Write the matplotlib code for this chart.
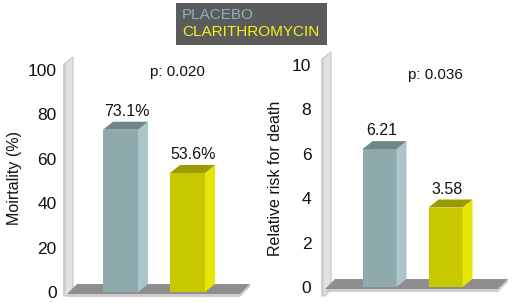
import matplotlib
matplotlib.use("Agg")
import matplotlib.pyplot as plt
from matplotlib.patches import Polygon, Rectangle

plt.rcParams['font.family'] = ['Liberation Sans', 'DejaVu Sans']

groups = ["PLACEBO", "CLARITHROMYCIN"]
mortality = [73.1, 53.6]
mortality_labels = ["73.1%", "53.6%"]
risk = [6.21, 3.58]
risk_labels = ["6.21", "3.58"]
p_values = ["p: 0.020", "p: 0.036"]
ylabels = ["Moirtality (%)", "Relative risk for death"]

front = ["#8faaad", "#c8c800"]
side = ["#aac6cb", "#e6e600"]
top = ["#6f8789", "#9c9c00"]
legend_colors = ["#8ab2bd", "#f2f21e"]

W, H = 518, 303
fig = plt.figure(figsize=(W / 100, H / 100), dpi=100)
fig.patch.set_facecolor("white")

DX = 10  # depth offset in px (x data is pixels)
DYPX = 8


def make_axes(x0, x1, zero_px, px_per_unit):
    # axes spans pixel rows 50..300
    ax = fig.add_axes([x0 / W, (H - 300) / H, (x1 - x0) / W, 250 / H])
    ax.set_xlim(x0, x1)
    ax.set_ylim((zero_px - 300) / px_per_unit, (zero_px - 50) / px_per_unit)
    for s in ax.spines.values():
        s.set_visible(False)
    ax.set_xticks([])
    ax.patch.set_alpha(0)
    return ax


def panel(ax, zero_px, ppu, centers, width, values, labels, ticks, pad, pval, pxy,
          ylabel, ylab_x, lab_shift, wall_x):
    dy = DYPX / ppu
    v = lambda py: (zero_px - py) / ppu
    top_px = zero_px - ticks[-1] * ppu
    # back wall
    ax.add_patch(Polygon([(wall_x, v(296)), (wall_x, v(top_px - 5)),
                          (wall_x + DX, v(top_px - 13)),
                          (wall_x + DX, v(289)), (wall_x + 4, v(296))],
                         closed=True, facecolor="#e2e2e2", edgecolor="#b8b8b8", lw=0.6, zorder=1))
    ax.add_patch(Polygon([(wall_x, v(296)), (wall_x, v(top_px - 5)),
                          (wall_x + 3, v(top_px - 7)), (wall_x + 3, v(296))],
                         closed=True, facecolor="#cfcfcf", edgecolor="none", zorder=1))
    # floor
    fx0 = wall_x + 4
    fx1 = fx0 + 173
    ax.add_patch(Polygon([(fx0, v(zero_px + 2)), (fx1, v(zero_px + 2)),
                          (fx1 + DX, v(zero_px - 8)), (fx1 + DX, v(zero_px - 5)),
                          (fx1, v(zero_px + 5)), (fx0, v(zero_px + 5))],
                         closed=True, facecolor="#cdcdcd", edgecolor="none", zorder=2))
    ax.add_patch(Polygon([(fx0, v(zero_px + 2)), (fx1, v(zero_px + 2)),
                          (fx1 + DX, v(zero_px - 8)), (fx0 + DX, v(zero_px - 8))],
                         closed=True, facecolor="#8e8e8e", edgecolor="none", zorder=2))
    bars = ax.bar(centers, values, width=width, color=front, zorder=3)
    for i, b in enumerate(bars):
        x0 = b.get_x()
        x1 = x0 + b.get_width()
        h = b.get_height()
        ax.add_patch(Polygon([(x1, 0), (x1, h), (x1 + DX, h + dy), (x1 + DX, dy)],
                             closed=True, facecolor=side[i], edgecolor="none", zorder=3))
        ax.add_patch(Polygon([(x0, h), (x1, h), (x1 + DX, h + dy), (x0 + DX, h + dy)],
                             closed=True, facecolor=top[i], edgecolor="none", zorder=3))
        ax.annotate(labels[i], (b.get_x() + width / 2 + lab_shift, h + dy),
                    xytext=(0, 2), textcoords="offset points", ha="center",
                    va="bottom", fontsize=11.5, color="#111111")
    ax.set_yticks(ticks)
    ax.set_yticklabels([str(t) for t in ticks])
    ax.tick_params(axis="y", length=0, pad=pad, labelsize=12.5, labelcolor="#111111")
    ax.text(pxy[0], v(pxy[1]), pval, ha="center", va="center", fontsize=11, color="#111111")
    ax.set_ylabel(ylabel, fontsize=11.5, color="#111111")
    ax.yaxis.label.set_va("center")
    x0p = ax.get_xlim()[0]
    ax.yaxis.set_label_coords((ylab_x - x0p) / (ax.get_xlim()[1] - x0p), (300 - 178) / 250)


ax1 = make_axes(63, 262, 292, 2.22)
panel(ax1, 292, 2.22, [120.5, 187.5], 35, mortality, mortality_labels,
      [0, 20, 40, 60, 80, 100], 4.5, p_values[0], (177, 72), ylabels[0], 15, 6, 63)

ax2 = make_axes(321, 516, 287, 22.2)
panel(ax2, 287, 22.2, [379.5, 445.5], 34, risk, risk_labels,
      [0, 2, 4, 6, 8, 10], 7, p_values[1], (435, 75), ylabels[1], 275, 2, 321)

# legend box
fig.patches.append(Rectangle((176 / W, 1 - 45 / H), 151 / W, 42 / H,
                             transform=fig.transFigure, facecolor="#5b5b5b",
                             edgecolor="none", zorder=0))
fig.text(182 / W, 1 - 15 / H, groups[0], color=legend_colors[0], fontsize=11,
         va="center", ha="left")
fig.text(182 / W, 1 - 32 / H, groups[1], color=legend_colors[1], fontsize=11,
         va="center", ha="left")

fig.savefig("out.png", dpi=100)
